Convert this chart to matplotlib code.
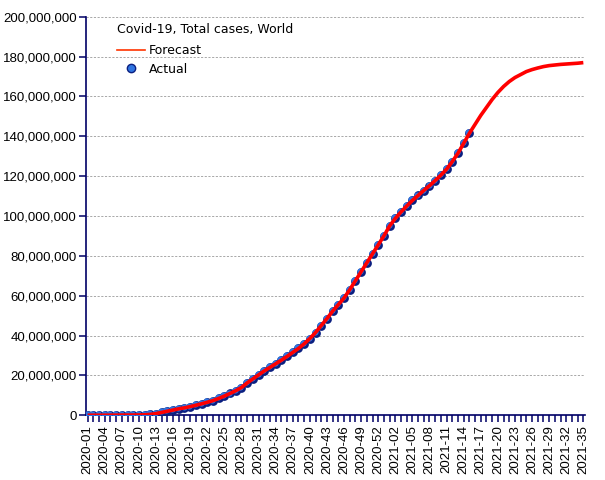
import matplotlib
matplotlib.use('Agg')
import matplotlib.pyplot as plt
from matplotlib.lines import Line2D
from matplotlib.ticker import FuncFormatter
from matplotlib.transforms import offset_copy

# ISO weeks 2020-01 .. 2021-35 (2020 has 53 weeks)
weeks = ['2020-%02d' % w for w in range(1, 54)] + ['2021-%02d' % w for w in range(1, 36)]

# cumulative cases, millions, weekly (2020-01 .. 2021-15)
actual = [0, 0, 0, 0.01, 0.02, 0.04, 0.07, 0.08, 0.09, 0.12,
          0.2, 0.4, 0.8, 1.4, 2.0, 2.6, 3.2, 3.7, 4.3, 5.0,
          5.7, 6.5, 7.3, 8.4, 9.6, 10.9, 12.3, 13.9, 16.2, 18.2,
          20.2, 22.2, 24.0, 25.8, 27.6, 29.5, 31.5, 33.5, 35.8, 38.5,
          41.5, 45.0, 48.5, 52.2, 55.5, 58.8, 63.0, 67.5, 72.0, 76.5,
          81.0, 85.5, 90.0, 95.0, 98.8, 102.0, 105.0, 107.8, 110.3, 112.8,
          115.2, 117.8, 120.5, 123.5, 127.3, 131.5, 136.5, 141.5]

# forecast after the last actual week (2021-16 .. 2021-35), millions
forecast_future = [146.0, 150.5, 154.5, 158.5, 162.0, 165.0, 167.5, 169.5, 171.0, 172.5,
                   173.5, 174.3, 175.0, 175.5, 175.8, 176.1, 176.3, 176.5, 176.7, 177.0]

forecast = actual + forecast_future

x_act = list(range(len(actual)))
x_fc = list(range(len(forecast)))
y_act = [v * 1e6 for v in actual]
y_fc = [v * 1e6 for v in forecast]

navy = '#000066'

fig = plt.figure(figsize=(6.05, 4.8), dpi=100)
ax = fig.add_axes([0.142, 0.135, 0.825, 0.83])

# sphere-like markers: dark base plus lighter blue on top
ax.scatter(x_act, y_act, s=40, color='#0b1f80', zorder=3, linewidths=0)
hl = offset_copy(ax.transData, fig=fig, x=-0.7, y=0.7, units='points')
ax.scatter(x_act, y_act, s=20, color='#2f74e0', zorder=3, linewidths=0, transform=hl)

ax.plot(x_fc, y_fc, color='#ff0000', lw=2.6, zorder=4, solid_capstyle='butt')

ax.set_xlim(-0.3, len(weeks) - 0.7)
ax.set_ylim(0, 200e6)
ax.set_yticks([i * 20e6 for i in range(11)])
ax.yaxis.set_major_formatter(FuncFormatter(lambda v, p: '{:,.0f}'.format(v)))

ax.set_xticks(range(len(weeks)))
ax.set_xticklabels([w if i % 3 == 0 else '' for i, w in enumerate(weeks)],
                   rotation=90, fontsize=9.5, family='Liberation Sans')
for lab in ax.get_yticklabels():
    lab.set_fontsize(9.5)
    lab.set_family('Liberation Sans')

ax.grid(axis='y', color='#a8a8a8', linestyle=(0, (2.2, 1.6)), lw=0.7)
ax.set_axisbelow(True)

for s in ['top', 'right']:
    ax.spines[s].set_visible(False)
for s in ['left', 'bottom']:
    ax.spines[s].set_color(navy)
    ax.spines[s].set_linewidth(1.2)
ax.tick_params(axis='both', colors=navy, length=5, width=1.1, labelcolor='black')
ax.tick_params(axis='x', pad=2)
ax.tick_params(axis='y', pad=1.5)

handles = [Line2D([], [], color='#ff3300', lw=1.2),
           Line2D([], [], marker='o', ls='', markersize=6,
                  markerfacecolor='#2f74e0', markeredgecolor='#0b1f80')]
leg = ax.legend(handles, ['Forecast', 'Actual'], title='Covid-19, Total cases, World',
                loc='upper left', bbox_to_anchor=(0.043, 1.01), frameon=False,
                fontsize=9, title_fontsize=9, alignment='left',
                handlelength=2.2, handletextpad=0.35, labelspacing=0.45, borderpad=0.3)
leg.get_title().set_family('DejaVu Sans')
leg._legend_box.sep = 6

fig.savefig('out.png', dpi=100)
